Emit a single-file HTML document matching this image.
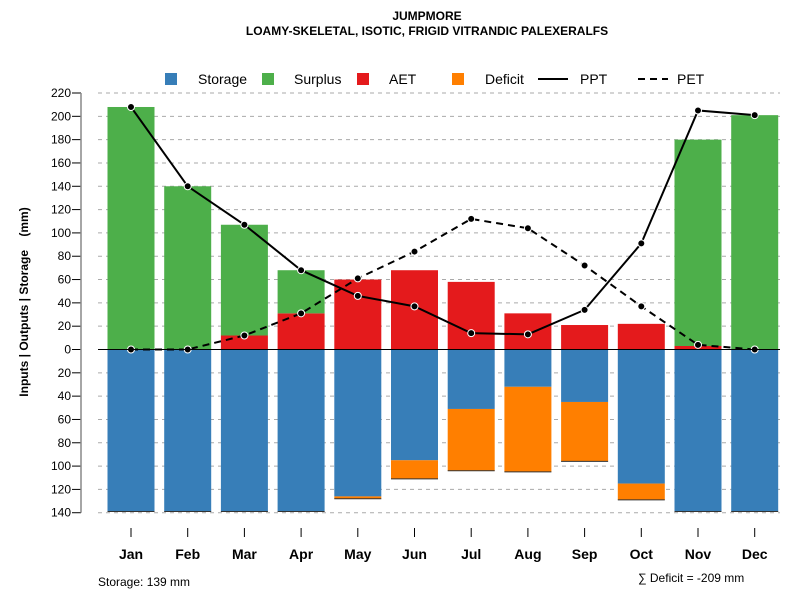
<!DOCTYPE html>
<html><head><meta charset="utf-8"><style>
body{margin:0;background:#fff}
svg text{font-family:"Liberation Sans",Arial,sans-serif}
</style></head><body>
<svg id="c" width="800" height="600" xmlns="http://www.w3.org/2000/svg">
<text x="427" y="20" text-anchor="middle" font-size="12" font-weight="bold">JUMPMORE</text>
<text x="427" y="35" text-anchor="middle" font-size="12" font-weight="bold">LOAMY-SKELETAL, ISOTIC, FRIGID VITRANDIC PALEXERALFS</text>
<g id="grid"></g><g id="bars"></g><g id="lines"></g><g id="axes"></g>
<g font-size="14">
<rect x="165" y="73" width="12" height="12" fill="#377eb8"/><text x="198" y="84">Storage</text>
<rect x="262" y="73" width="12" height="12" fill="#4daf4a"/><text x="294" y="84">Surplus</text>
<rect x="357" y="73" width="12" height="12" fill="#e41a1c"/><text x="389" y="84">AET</text>
<rect x="452" y="73" width="12" height="12" fill="#ff7f00"/><text x="485" y="84">Deficit</text>
<line x1="538" y1="79" x2="568" y2="79" stroke="#000" stroke-width="2"/><text x="580" y="84">PPT</text>
<line x1="638" y1="79" x2="668" y2="79" stroke="#000" stroke-width="2" stroke-dasharray="7,5"/><text x="677" y="84">PET</text>
</g>
<text transform="translate(28,302) rotate(-90)" text-anchor="middle" font-size="12" font-weight="bold" xml:space="preserve">Inputs | Outputs | Storage    (mm)</text>
<text x="98" y="586" font-size="12">Storage: 139 mm</text>
<text x="638" y="582" font-size="12">∑ Deficit = -209 mm</text>
</svg>
<script>
const months=["Jan","Feb","Mar","Apr","May","Jun","Jul","Aug","Sep","Oct","Nov","Dec"];
const ppt=[208,140,107,68,46,37,14,13,34,91,205,201];
const pet=[0,0,12,31,61,84,112,104,72,37,4,0];
const aet=[0,0,12,31,60,68,58,31,21,22,3,0];
const surplus=[208,140,95,37,0,0,0,0,0,0,177,201];
const storage=[139,139,139,139,126,95,51,32,45,115,139,139];
const deficit=[0,0,0,0,2,16,53,73,51,14,0,0];
const yTicks=[220,200,180,160,140,120,100,80,60,40,20,0,-20,-40,-60,-80,-100,-120,-140];
const NS="http://www.w3.org/2000/svg";
const X0=98,X1=780,AX=81;
const y=v=>349.5-v*(256.5/220);
const x=i=>131+i*56.7;
const BW=47;
function mk(t,a,p){const e=document.createElementNS(NS,t);for(const k in a)e.setAttribute(k,a[k]);p.appendChild(e);return e;}
const G=document.getElementById('grid'),B=document.getElementById('bars'),L=document.getElementById('lines'),A=document.getElementById('axes');
yTicks.forEach(v=>{
 if(v!==0){const g=mk('line',{x1:X0,x2:X1,y1:y(v),y2:y(v),stroke:'#aaa','stroke-dasharray':'4,4'},G);
 
 }
 const t=mk('line',{x1:AX-9,x2:AX,y1:y(v),y2:y(v),stroke:'#000'},A);
 
 
 const l=mk('text',{x:AX-10,y:y(v)+4,'text-anchor':'end','font-size':12},A);l.textContent=Math.abs(v);
 
 
});
months.forEach((m,i)=>{
 const cx=x(i),bx=cx-BW/2;
 const r1=mk('rect',{x:bx,y:y(0),width:BW,height:y(-storage[i])-y(0),fill:'#377eb8'},B);
 
 
 if(deficit[i]>0){const r=mk('rect',{x:bx,y:y(-storage[i]),width:BW,height:y(-storage[i]-deficit[i])-y(-storage[i]),fill:'#ff7f00'},B);
 
 }
 const be=mk('line',{x1:bx,x2:bx+BW,y1:y(-storage[i]-deficit[i]),y2:y(-storage[i]-deficit[i]),stroke:'#333'},B);
 
 
 if(aet[i]>0){const r=mk('rect',{x:bx,y:y(aet[i]),width:BW,height:y(0)-y(aet[i]),fill:'#e41a1c'},B);
 
 }
 if(surplus[i]>0){const r=mk('rect',{x:bx,y:y(aet[i]+surplus[i]),width:BW,height:y(aet[i])-y(aet[i]+surplus[i]),fill:'#4daf4a'},B);
 
 }
 const t=mk('line',{x1:cx,x2:cx,y1:528,y2:537,stroke:'#000'},A);
 
 
 const l=mk('text',{x:cx,y:559,'text-anchor':'middle','font-size':14,'font-weight':'bold'},A);l.textContent=m;
 
 
});
const z=mk('line',{x1:X0,x2:X1,y1:y(0),y2:y(0),stroke:'#000'},A);


const yl=mk('line',{x1:AX,x2:AX,y1:y(220),y2:y(-140),stroke:'#888','stroke-width':1.5},A);


function series(d,name,dash){
 const p=mk('polyline',{points:d.map((v,i)=>x(i)+','+y(v)).join(' '),fill:'none',stroke:'#000','stroke-width':2,'stroke-dasharray':dash},L);
 
 
 d.forEach((v,i)=>{const c=mk('circle',{cx:x(i),cy:y(v),r:3.5,fill:'#000',stroke:'#fff','stroke-width':1},L);
 
 });
}
series(pet,'pet','7,5');
series(ppt,'ppt','none');
</script>
</body></html>
